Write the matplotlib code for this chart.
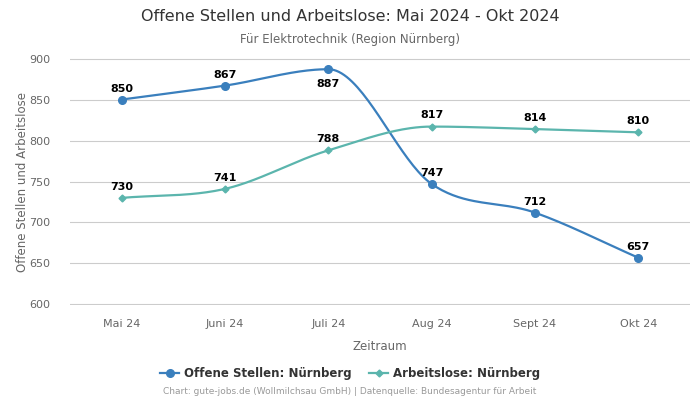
import numpy as np
import matplotlib
matplotlib.use('Agg')
from matplotlib import pyplot as plt

# data
months = ['Mai 24', 'Juni 24', 'Juli 24', 'Aug 24', 'Sept 24', 'Okt 24']
offene = [850, 867, 887, 747, 712, 657]
arbeitslose = [730, 741, 788, 817, 814, 810]


def monotone(y, n=40):
    # Fritsch-Carlson monotone cubic, like the smoothed lines of the original
    y = np.asarray(y, dtype=float)
    x = np.arange(len(y), dtype=float)
    d = np.diff(y)
    m = np.zeros_like(y)
    m[0], m[-1] = d[0], d[-1]
    for i in range(1, len(y) - 1):
        if d[i - 1] * d[i] <= 0:
            m[i] = 0
        else:
            m[i] = (d[i - 1] + d[i]) / 2
    for i in range(len(d)):
        if d[i] == 0:
            m[i] = m[i + 1] = 0
            continue
        a, b = m[i] / d[i], m[i + 1] / d[i]
        s = a * a + b * b
        if s > 9:
            t = 3 / np.sqrt(s)
            m[i], m[i + 1] = t * a * d[i], t * b * d[i]
    xs, ys = [], []
    for i in range(len(d)):
        t = np.linspace(0, 1, n)
        h00 = 2 * t**3 - 3 * t**2 + 1
        h10 = t**3 - 2 * t**2 + t
        h01 = -2 * t**3 + 3 * t**2
        h11 = t**3 - t**2
        xs.append(x[i] + t)
        ys.append(h00 * y[i] + h10 * m[i] + h01 * y[i + 1] + h11 * m[i + 1])
    return np.concatenate(xs), np.concatenate(ys)


col1 = '#3a7fbd'
col2 = '#5bb5ad'

fig = plt.figure(figsize=(7, 4), dpi=100)
ax = fig.add_axes([0.1, 0.2375, 0.8857, 0.6175])

x = np.arange(len(months))
sx, sy = monotone(offene)
ax.plot(sx, sy, color=col1, lw=1.6, zorder=3)
ax.plot(x, offene, 'o', color=col1, ms=5.5, zorder=4)
sx, sy = monotone(arbeitslose)
ax.plot(sx, sy, color=col2, lw=1.6, zorder=3)
ax.plot(x, arbeitslose, 'D', color=col2, ms=3.5, zorder=4)

# value labels
for i, v in enumerate(offene):
    off = -7 if i == 2 else 4
    ax.annotate(str(v), (i, v), xytext=(0, off), textcoords='offset points',
                ha='center', va='bottom' if off > 0 else 'top',
                fontsize=8, fontweight='bold', color='black', zorder=5)
for i, v in enumerate(arbeitslose):
    ax.annotate(str(v), (i, v), xytext=(0, 4.5), textcoords='offset points',
                ha='center', va='bottom', fontsize=8, fontweight='bold',
                color='black', zorder=5)

ax.set_xlim(-0.5, 5.5)
ax.set_ylim(599.3, 900.7)
ax.set_yticks(np.arange(600, 901, 50))
ax.set_xticks(x)
ax.set_xticklabels(months)
ax.grid(axis='y', color='#cccccc', lw=0.8)
ax.set_axisbelow(True)
for s in ax.spines.values():
    s.set_visible(False)
ax.tick_params(axis='both', length=0, colors='#666666', labelsize=8)
ax.tick_params(axis='x', pad=10)
ax.tick_params(axis='y', pad=14)
ax.set_xlabel('Zeitraum', color='#666666', fontsize=8.5, labelpad=8)
ax.set_ylabel('Offene Stellen und Arbeitslose', color='#666666', fontsize=8.5, labelpad=0)

fig.text(0.5, 0.958, 'Offene Stellen und Arbeitslose: Mai 2024 - Okt 2024',
         ha='center', va='center', fontsize=11.5, color='#333333')
fig.text(0.5, 0.902, 'Für Elektrotechnik (Region Nürnberg)',
         ha='center', va='center', fontsize=8.5, color='#666666')

h1, = ax.plot([], [], 'o-', color=col1, ms=5.5, lw=1.6)
h2, = ax.plot([], [], 'D-', color=col2, ms=3.5, lw=1.6)
leg = fig.legend([h1, h2], ['Offene Stellen: Nürnberg', 'Arbeitslose: Nürnberg'],
                 loc='center', bbox_to_anchor=(0.5, 0.067), ncol=2, frameon=False,
                 prop={'weight': 'bold', 'size': 8.5}, handlelength=1.6,
                 columnspacing=1.5, handletextpad=0.4)
for t in leg.get_texts():
    t.set_color('#333333')

fig.text(0.5, 0.02, 'Chart: gute-jobs.de (Wollmilchsau GmbH) | Datenquelle: Bundesagentur für Arbeit',
         ha='center', va='center', fontsize=6.5, color='#999999')

fig.savefig('out.png', dpi=100)
